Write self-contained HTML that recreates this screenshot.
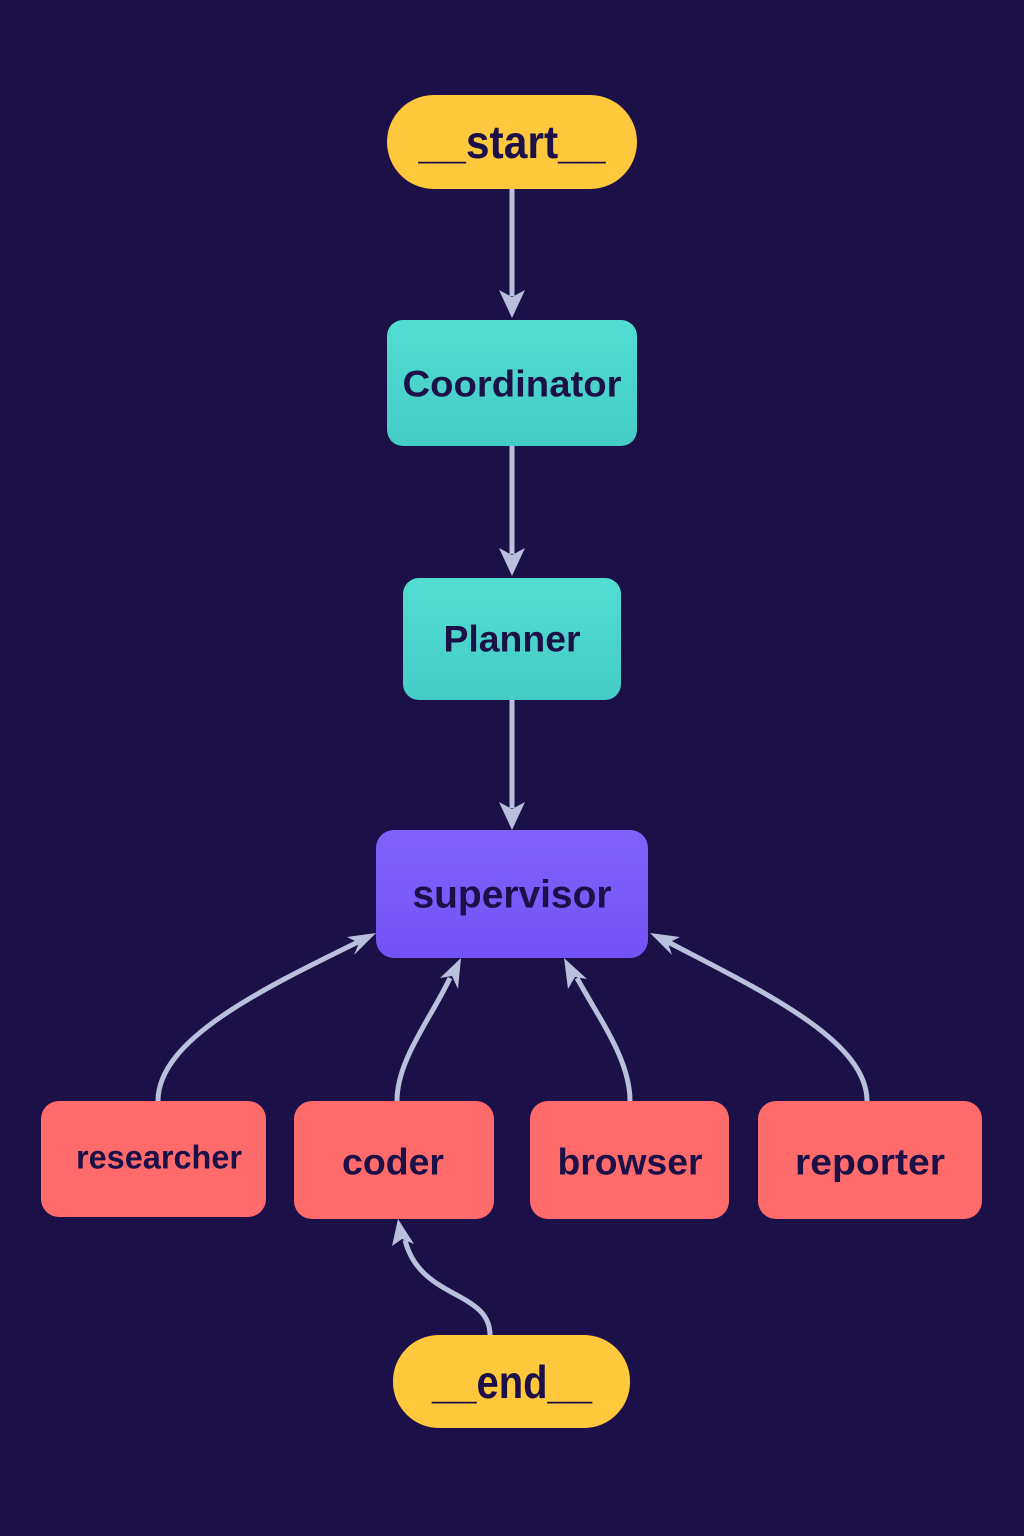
<!DOCTYPE html>
<html><head><meta charset="utf-8"><style>
html,body{margin:0;padding:0;background:#1c1048;}
svg{display:block}
text{font-family:"Liberation Sans",sans-serif;font-weight:bold;fill:#1c1048;text-anchor:middle;dominant-baseline:central}
</style></head><body>
<svg width="1024" height="1536" viewBox="0 0 1024 1536">
<defs>
<linearGradient id="t" x1="0" y1="0" x2="0" y2="1"><stop offset="0" stop-color="#52ddd3"/><stop offset="1" stop-color="#44cbc6"/></linearGradient>
<linearGradient id="p" x1="0" y1="0" x2="0" y2="1"><stop offset="0" stop-color="#8163fb"/><stop offset="1" stop-color="#7452f6"/></linearGradient>
</defs>
<rect width="1024" height="1536" fill="#1c1048"/>
<g stroke="#b8c0dc" stroke-width="5" fill="none">
<path d="M512,189 L512,296"/>
<path d="M512,446 L512,554"/>
<path d="M512,700 L512,808"/>
<path d="M158,1101 C158,1040 260,990 358,942"/>
<path d="M397,1101 C397,1060 430,1020 450,978"/>
<path d="M630,1101 C630,1060 600,1020 577,978"/>
<path d="M867,1101 C867,1040 760,990 668,942"/>
<path d="M490,1335 C490,1290 420,1300 405,1240"/>
</g>
<g fill="#b8c0dc">
<polygon points="512,318 499,290 512,297 525,290"/>
<polygon points="512,576 499,548 512,555 525,548"/>
<polygon points="512,830 499,802 512,809 525,802"/>
<polygon points="376,933 347,937 359,943 354,955"/>
<polygon points="461,958 440,978 452,976 458,989"/>
<polygon points="564,958 568,989 575,977 587,979"/>
<polygon points="650,933 672,955 668,943 680,937"/>
<polygon points="398,1219 392,1246 402,1239 414,1244"/>
</g>
<rect x="387" y="95" width="250" height="94" rx="47" fill="#ffc83d"/>
<text x="512" y="142" font-size="46" textLength="187" lengthAdjust="spacingAndGlyphs">__start__</text>
<rect x="387" y="320" width="250" height="126" rx="16" fill="url(#t)"/>
<text x="512" y="384" font-size="37" textLength="219" lengthAdjust="spacingAndGlyphs">Coordinator</text>
<rect x="403" y="578" width="218" height="122" rx="16" fill="url(#t)"/>
<text x="512" y="639" font-size="37" textLength="137" lengthAdjust="spacingAndGlyphs">Planner</text>
<rect x="376" y="830" width="272" height="128" rx="18" fill="url(#p)"/>
<text x="512" y="895" font-size="39" textLength="199" lengthAdjust="spacingAndGlyphs">supervisor</text>
<rect x="41" y="1101" width="225" height="116" rx="18" fill="#ff6b6b"/>
<text x="159" y="1157" font-size="33" textLength="166" lengthAdjust="spacingAndGlyphs">researcher</text>
<rect x="294" y="1101" width="200" height="118" rx="18" fill="#ff6b6b"/>
<text x="393" y="1162" font-size="37" textLength="102" lengthAdjust="spacingAndGlyphs">coder</text>
<rect x="530" y="1101" width="199" height="118" rx="18" fill="#ff6b6b"/>
<text x="630" y="1162" font-size="37" textLength="145" lengthAdjust="spacingAndGlyphs">browser</text>
<rect x="758" y="1101" width="224" height="118" rx="18" fill="#ff6b6b"/>
<text x="870" y="1162" font-size="37" textLength="150" lengthAdjust="spacingAndGlyphs">reporter</text>
<rect x="393" y="1335" width="237" height="93" rx="46" fill="#ffc83d"/>
<text x="512" y="1382" font-size="46" textLength="160" lengthAdjust="spacingAndGlyphs">__end__</text>
</svg>
</body></html>
